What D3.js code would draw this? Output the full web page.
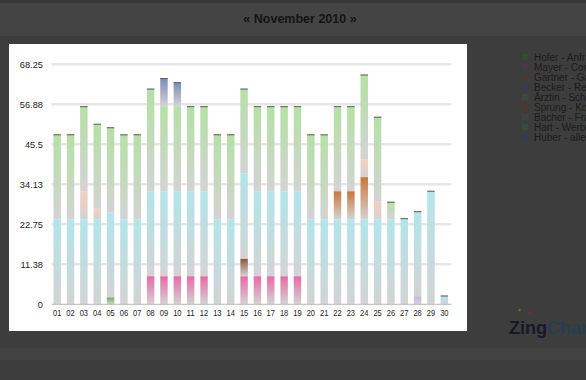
<!DOCTYPE html>
<html><head><meta charset="utf-8">
<script src="https://cdn.jsdelivr.net/npm/d3@7"></script>
<style>
html,body{margin:0;padding:0;background:#3d3d3d;overflow:hidden;}
svg{display:block;font-family:"Liberation Sans",Arial,sans-serif;}
</style></head><body>
<svg id="c" width="586" height="380"></svg>
<script>
const days = ["01","02","03","04","05","06","07","08","09","10","11","12","13","14","15","16","17","18","19","20","21","22","23","24","25","26","27","28","29","30"];
const yTickValues = [0, 11.375, 22.75, 34.125, 45.5, 56.875, 68.25];
const yTickLabels = ["0","11.38","22.75","34.13","45.5","56.88","68.25"];
const title = "« November 2010 »";
const legendNames = ["Hofer - Anfragen","Mayer - Consulting","Gartner - Gartenplanung","Becker - Recherche","Ärztin - Schulung","Sprung - Konzept","Bacher - Fragen","Hart - Werbung","Huber - allerlei"];

// series values per day (stack order bottom -> top)
const hofer   = [0,0,0,0,2,0,0,0,0,0,0,0,0,0,0,0,0,0,0,0,0,0,0,0,0,0,0,0,0,0];
const mayer   = [0,0,0,0,0,0,0,8,8,8,8,8,0,0,8,8,8,8,8,0,0,0,0,0,0,0,0,0,0,0];
const huber   = [0,0,0,0,0,0,0,0,0,0,0,0,0,0,0,0,0,0,0,0,0,0,0,0,0,0,0,2.3,0,0];
const gartner = [0,0,0,0,0,0,0,0,0,0,0,0,0,0,5,0,0,0,0,0,0,0,0,0,0,0,0,0,0,0];
const hart    = [24.17,24.17,24.17,24.17,24.17,24.17,24.17,24.17,24.17,24.17,24.17,24.17,24.17,24.17,24.17,24.17,24.17,24.17,24.17,24.17,24.17,24.17,24.17,24.17,24.17,24.17,24.5,24.17,32.3,2.5];
const sprung  = [0,0,0,0,0,0,0,0,0,0,0,0,0,0,0,0,0,0,0,0,0,8,8,12,0,0,0,0,0,0];
const bacher  = [0,0,8,3,0,0,0,0,0,0,0,0,0,0,0,0,0,0,0,0,0,0,0,5,5,0,0,0,0,0];
const aerztin = [24.17,24.17,24.17,24.17,24.17,24.17,24.17,29.17,24.17,24.17,24.17,24.17,24.17,24.17,24.17,24.17,24.17,24.17,24.17,24.17,24.17,24.17,24.17,24.17,24.17,5,0,0,0,0];
const becker  = [0,0,0,0,0,0,0,0,8,6.8,0,0,0,0,0,0,0,0,0,0,0,0,0,0,0,0,0,0,0,0];

const stackKeys = ["hofer","mayer","huber","gartner","hart","sprung","bacher","aerztin","becker"];
const seriesData = {hofer, mayer, huber, gartner, hart, sprung, bacher, aerztin, becker};
const seriesColor = {hofer:"#6cae5e", mayer:"#e76aa7", huber:"#c2b2ec", gartner:"#8a583a", hart:"#b2e5ea", sprung:"#c9763a", bacher:"#f5cfbf", aerztin:"#b5e0a5", becker:"#7b8bba"};
const legendKeys = ["hofer","mayer","gartner","becker","aerztin","sprung","bacher","hart","huber"];
const legendColor = {hofer:"#384a34", mayer:"#4b3845", gartner:"#463a36", becker:"#393c4e", aerztin:"#3c4a40", sprung:"#4a3830", bacher:"#444343", hart:"#3d4945", huber:"#363a55"};

const svg = d3.select("#c");
// page background pieces
svg.append("rect").attr("x",0).attr("y",0).attr("width",586).attr("height",380).attr("fill","#3d3d3d");
svg.append("rect").attr("x",0).attr("y",0).attr("width",586).attr("height",36).attr("fill","#444444");
svg.append("rect").attr("x",0).attr("y",0).attr("width",586).attr("height",3).attr("fill","#383838");
svg.append("rect").attr("x",0).attr("y",348).attr("width",586).attr("height",12).attr("fill","#424242");

svg.append("text").attr("x",300).attr("y",23).attr("text-anchor","middle")
  .attr("font-size",12.5).attr("font-weight","bold").attr("fill","#141414").text(title);

// white panel
svg.append("rect").attr("x",9).attr("y",44).attr("width",458).attr("height",287).attr("fill","#ffffff");

const x = d3.scaleBand().domain(days).range([50.5, 451]).paddingInner(0.44).paddingOuter(0.22);
const y = d3.scaleLinear().domain([0, 68.25]).range([304.3, 64.3]);

// gridlines
svg.append("g").selectAll("line").data(yTickValues.slice(1)).join("line")
  .attr("x1",51.5).attr("x2",451.5).attr("y1",d=>y(d)).attr("y2",d=>y(d))
  .attr("stroke","#e6e6e6").attr("stroke-width",2.5);

// gradients
const defs = svg.append("defs");
stackKeys.forEach(k=>{
  const g = defs.append("linearGradient").attr("id","g_"+k).attr("x1",0).attr("y1",0).attr("x2",0).attr("y2",1);
  g.append("stop").attr("offset","0%").attr("stop-color",seriesColor[k]);
  g.append("stop").attr("offset","100%").attr("stop-color","#d3d3d3");
});

const rows = days.map((d,i)=>{const r={day:d}; stackKeys.forEach(k=>r[k]=seriesData[k][i]); return r;});
const stacked = d3.stack().keys(stackKeys)(rows);

const gBars = svg.append("g");
stacked.forEach(layer=>{
  gBars.selectAll(null).data(layer.filter(d=>d[1]-d[0]>0)).join("rect")
    .attr("x",d=>x(d.data.day)).attr("width",x.bandwidth())
    .attr("y",d=>y(d[1])).attr("height",d=>y(d[0])-y(d[1]))
    .attr("fill","url(#g_"+layer.key+")");
});
// top edge line of each column
const totals = rows.map(r=>({day:r.day, t:d3.sum(stackKeys,k=>r[k])}));
gBars.selectAll(null).data(totals).join("line")
  .attr("x1",d=>x(d.day)).attr("x2",d=>x(d.day)+x.bandwidth())
  .attr("y1",d=>y(d.t)+0.5).attr("y2",d=>y(d.t)+0.5)
  .attr("stroke","#5a5f5a").attr("stroke-width",1);

// baseline
svg.append("line").attr("x1",51.5).attr("x2",451.5).attr("y1",y(0)).attr("y2",y(0))
  .attr("stroke","#b8b8b8").attr("stroke-width",1);

// y labels
svg.append("g").selectAll("text").data(yTickValues).join("text")
  .attr("x",43).attr("y",d=>y(d)+3.3).attr("text-anchor","end")
  .attr("font-size",9.3).attr("fill","#1e1e1e").text((d,i)=>yTickLabels[i]);

// x labels
svg.append("g").selectAll("text").data(days).join("text")
  .attr("x",d=>x(d)+x.bandwidth()/2).attr("y",315.8).attr("text-anchor","middle")
  .attr("font-size",9.2).attr("fill","#1e1e1e")
  .attr("textLength",8.4).attr("lengthAdjust","spacingAndGlyphs").text(d=>d);

// legend (clipped by the window edge, as in the original)
const lg = svg.append("g");
legendKeys.forEach((k,i)=>{
  const cy = 57.3 + i*10;
  lg.append("rect").attr("x",522).attr("y",cy-3.3).attr("width",6.5).attr("height",6.5).attr("fill",legendColor[k]);
  lg.append("text").attr("x",534).attr("y",cy+3.5).attr("font-size",10).attr("fill","#1c1c1c").text(legendNames[i]);
});

// logo
svg.append("circle").attr("cx",519.5).attr("cy",310).attr("r",1.2).attr("fill","#7a6a30");
svg.append("circle").attr("cx",529.5).attr("cy",312.7).attr("r",1.3).attr("fill","#7a2a2a");
const logo = svg.append("text").attr("x",509).attr("y",333.5).attr("font-size",18).attr("font-weight","bold");
logo.append("tspan").attr("fill","#16182a").text("Zing");
logo.append("tspan").attr("fill","#253f52").text("Chart");
</script>
</body></html>
